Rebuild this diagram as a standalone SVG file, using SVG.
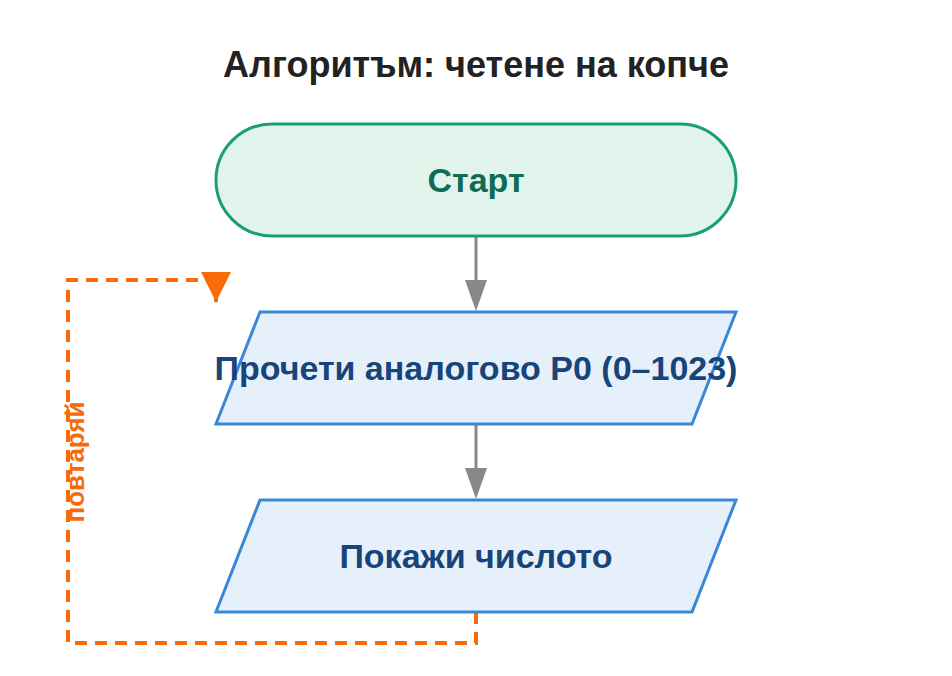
<svg xmlns="http://www.w3.org/2000/svg" width="952" height="676" viewBox="0 0 952 676">
<style>
text{font-family:"Liberation Sans",Arial,sans-serif;font-weight:bold;text-anchor:middle;dominant-baseline:central}
.io{fill:#e6f0fb;stroke:#3a87d8;stroke-width:3}
.io-t{fill:#17457a;font-size:34px}
.c{stroke:#888;stroke-width:3;fill:none}
</style>
<rect width="952" height="676" fill="#fff"/>
<text x="476" y="64" font-size="36" fill="#222">Алгоритъм: четене на копче</text>
<g id="connectors">
<line class="c" x1="476" y1="236" x2="476" y2="280"/>
<path d="M465 280L487 280L476 311Z" fill="#888"/>
<line class="c" x1="476" y1="424" x2="476" y2="468"/>
<path d="M465 468L487 468L476 499Z" fill="#888"/>
<path d="M476 612V643H68V280H216V310" fill="none" stroke="#f96b09" stroke-width="4" stroke-dasharray="12 8"/>
<path d="M201 272L231 272L216 302Z" fill="#f96b09"/>
<text x="75" y="462" font-size="26" fill="#f96b09" transform="rotate(-90 75 462)">повтаряй</text>
</g>
<g id="start">
<rect x="216" y="124" width="520" height="112" rx="56" fill="#e0f4ec" stroke="#1a9e77" stroke-width="3"/>
<text x="476" y="180" font-size="34" fill="#0e6b55">Старт</text>
</g>
<g id="read">
<polygon class="io" points="260,312 736,312 692,424 216,424"/>
<text class="io-t" x="476" y="368">Прочети аналогово P0 (0–1023)</text>
</g>
<g id="show">
<polygon class="io" points="260,500 736,500 692,612 216,612"/>
<text class="io-t" x="476" y="556">Покажи числото</text>
</g>
</svg>
